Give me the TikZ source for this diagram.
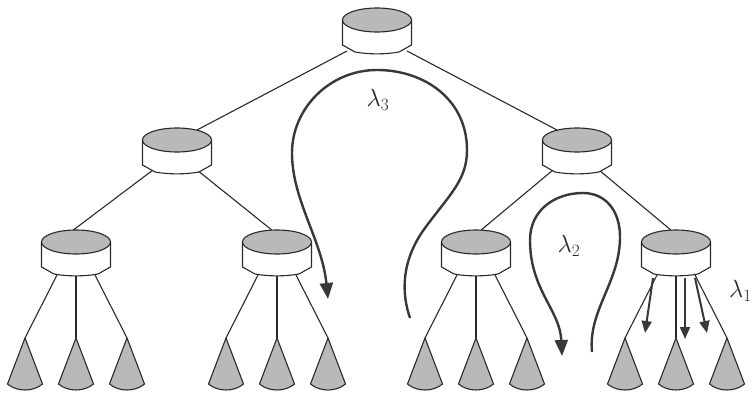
\documentclass[tikz,border=0pt]{standalone}
\usetikzlibrary{arrows.meta,calc}
\definecolor{lc}{HTML}{2A2A2A}
\definecolor{gf}{HTML}{B9B9B9}
\definecolor{ac}{HTML}{383838}
\tikzset{
  disc/.pic={
    \path[fill=white,draw=lc,line width=1.1pt,line join=round]
      (-34.5,0) -- (-34.5,25) -- (-22,32) .. controls (-8,34.5) and (8,34.5) .. (22,32) -- (34.5,25) -- (34.5,0) -- cycle;
    \path[fill=gf,draw=lc,line width=1.1pt] (0,0) ellipse [x radius=34.5, y radius=12];
  },
  cone/.pic={
    \path[fill=gf,draw=lc,line width=1.1pt,line join=round]
      (0,0) -- (-17.5,46) .. controls (-8,54) and (8,54) .. (17.5,46) -- cycle;
  },
  edge/.style={draw=lc,line width=1.1pt},
  flow/.style={draw=ac,line width=2.4pt,-{Triangle[length=16pt,width=13pt]}},
  small flow/.style={draw=ac,line width=2pt,-{Triangle[length=12pt,width=10pt]}},
  lab/.style={font=\fontsize{23}{26}\selectfont, text=lc, inner sep=0pt}
}
\begin{document}
\begin{tikzpicture}[x=1pt,y=-1pt]
\useasboundingbox (0,0) rectangle (754,396);
\clip (0,0) rectangle (754,396);
\fill[white] (0,0) rectangle (754,396);
% tree node centres (top ellipse centres)
\coordinate (r) at (377,20);
\coordinate (a) at (177,140);
\coordinate (b) at (577,140);
\coordinate (n1) at (76,242);
\coordinate (n2) at (277,242);
\coordinate (n3) at (476,242);
\coordinate (n4) at (676,242);
% leaf apexes
\foreach \n/\x in {1/76,2/277,3/476,4/676}{
  \coordinate (l\n a) at (\x-51,338);
  \coordinate (l\n b) at (\x,338);
  \coordinate (l\n c) at (\x+51,338);
}
% edges between discs
\draw[edge] ($(r)+(-30,31)$) -- ($(a)+(20,-10)$);
\draw[edge] ($(r)+(30,31)$) -- ($(b)+(-20,-10)$);
\draw[edge] ($(a)+(-24,30)$) -- ($(n1)+(-4,-11)$);
\draw[edge] ($(a)+(20,30)$) -- ($(n2)+(-4,-11)$);
\draw[edge] ($(b)+(-24,30)$) -- ($(n3)+(4,-11)$);
\draw[edge] ($(b)+(22,30)$) -- ($(n4)+(-4,-11)$);
% edges to leaves
\foreach \n in {1,2,3,4}{
  \draw[edge] ($(n\n)+(-19,33)$) -- (l\n a);
  \draw[edge] ($(n\n)+(0,34)$) -- (l\n b);
  \draw[edge] ($(n\n)+(19,33)$) -- (l\n c);
}
% discs
\foreach \c in {r,a,b,n1,n2,n3,n4}{
  \pic at (\c) {disc};
}
% leaves
\foreach \n in {1,2,3,4}{
  \pic at (l\n a) {cone};
  \pic at (l\n b) {cone};
  \pic at (l\n c) {cone};
}
% lambda 3 loop
\coordinate (s3) at (410,318);
\coordinate (e3) at (328,299);
\draw[flow] (s3) .. controls (402,295) and (400,262) .. (425,228)
  .. controls (450,194) and (467,180) .. (467,150)
  .. controls (467,100) and (425,70) .. (377,70)
  .. controls (330,70) and (292,108) .. (292,153)
  .. controls (292,200) and (322,240) .. (e3);
\node[lab] (L3) at (378,100) {$\lambda_3$};
% lambda 2 loop
\coordinate (s2) at (592,352);
\coordinate (e2) at (562,356);
\draw[flow] (s2) .. controls (588,310) and (620,282) .. (620,237)
  .. controls (620,210) and (605,193) .. (583,193)
  .. controls (555,193) and (530,210) .. (530,240)
  .. controls (530,290) and (560,310) .. (e2);
\node[lab] (L2) at (569,246) {$\lambda_2$};
% lambda 1 arrows
\coordinate (f1) at (653,278);
\coordinate (t1) at (645,333);
\coordinate (f2) at (685,278);
\coordinate (t2) at (685,339);
\coordinate (f3) at (695,278);
\coordinate (t3) at (707,333);
\draw[small flow] (f1) -- (t1);
\draw[small flow] (f2) -- (t2);
\draw[small flow] (f3) -- (t3);
\node[lab,anchor=east] (L1) at (752,291) {$\lambda_1$};
\end{tikzpicture}
\end{document}
